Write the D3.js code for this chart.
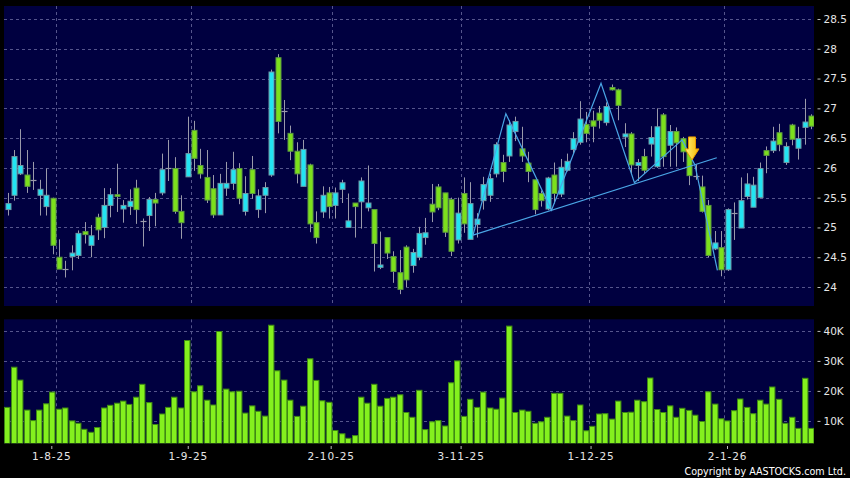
<!DOCTYPE html>
<html><head><meta charset="utf-8">
<script src="https://cdn.jsdelivr.net/npm/d3@7"></script>
<style>html,body{margin:0;padding:0;background:#000;}svg{display:block;}</style>
</head><body>
<svg id="c" width="850" height="478"></svg>
<script>
// ---------- DATA ----------
const dates = [
"2025-07-22","2025-07-23","2025-07-24","2025-07-25","2025-07-28","2025-07-29","2025-07-30","2025-07-31",
"2025-08-01","2025-08-04","2025-08-05","2025-08-06","2025-08-07","2025-08-08","2025-08-11","2025-08-12","2025-08-13","2025-08-14","2025-08-15","2025-08-18","2025-08-19","2025-08-20","2025-08-21","2025-08-22","2025-08-25","2025-08-26","2025-08-27","2025-08-28","2025-08-29",
"2025-09-01","2025-09-02","2025-09-03","2025-09-04","2025-09-05","2025-09-08","2025-09-09","2025-09-10","2025-09-11","2025-09-12","2025-09-15","2025-09-16","2025-09-17","2025-09-18","2025-09-19","2025-09-22","2025-09-23","2025-09-24","2025-09-25","2025-09-26","2025-09-29","2025-09-30",
"2025-10-02","2025-10-03","2025-10-06","2025-10-08","2025-10-09","2025-10-10","2025-10-13","2025-10-14","2025-10-15","2025-10-16","2025-10-17","2025-10-20","2025-10-21","2025-10-22","2025-10-23","2025-10-24","2025-10-27","2025-10-28","2025-10-30","2025-10-31",
"2025-11-03","2025-11-04","2025-11-05","2025-11-06","2025-11-07","2025-11-10","2025-11-11","2025-11-12","2025-11-13","2025-11-14","2025-11-17","2025-11-18","2025-11-19","2025-11-20","2025-11-21","2025-11-24","2025-11-25","2025-11-26","2025-11-27","2025-11-28",
"2025-12-01","2025-12-02","2025-12-03","2025-12-04","2025-12-05","2025-12-08","2025-12-09","2025-12-10","2025-12-11","2025-12-12","2025-12-15","2025-12-16","2025-12-17","2025-12-18","2025-12-19","2025-12-22","2025-12-23","2025-12-24","2025-12-29","2025-12-30","2025-12-31",
"2026-01-02","2026-01-05","2026-01-06","2026-01-07","2026-01-08","2026-01-09","2026-01-12","2026-01-13","2026-01-14","2026-01-15","2026-01-16","2026-01-19","2026-01-20","2026-01-21"];

const open = [25.30,25.54,25.90,25.88,25.79,25.54,25.35,25.49,24.50,24.30,24.51,24.53,24.93,24.70,25.17,25.00,25.37,25.55,25.31,25.35,
25.66,25.10,25.20,25.47,25.58,25.99,25.99,25.27,25.85,26.63,26.04,25.84,25.65,25.21,25.66,25.74,25.99,25.27,25.97,25.30,
25.54,25.88,27.85,26.95,26.58,26.28,25.69,26.05,25.08,25.26,25.58,25.37,25.64,25.00,25.41,25.43,25.33,25.30,24.33,24.83,
24.51,24.24,24.67,24.36,24.50,24.83,25.39,25.68,25.58,25.47,24.79,25.57,24.80,25.05,25.45,25.54,25.90,26.09,26.20,26.61,
26.32,26.08,25.80,25.57,25.31,25.88,25.56,25.96,26.31,26.43,26.73,26.79,26.92,26.76,27.35,27.31,26.52,26.57,26.04,26.19,
26.40,26.02,26.89,26.38,26.61,26.49,26.27,25.87,25.68,25.37,24.64,24.66,24.29,25.24,24.99,25.52,25.34,25.50,26.29,26.29,
26.59,26.09,26.72,26.33,26.68,26.87];
const high = [25.58,26.30,26.65,26.30,26.10,25.80,25.99,25.50,24.80,24.44,24.70,24.95,25.09,25.04,25.23,25.66,25.66,26.07,25.46,25.64,
25.80,25.15,25.51,25.58,26.24,26.47,26.18,25.54,26.86,26.79,26.32,26.30,25.88,25.90,26.10,26.27,26.08,25.86,26.20,25.64,
25.76,27.65,27.91,27.14,26.71,26.43,26.47,26.07,25.27,25.69,25.68,25.67,25.80,25.57,25.41,25.84,26.04,25.30,24.93,24.83,
24.60,24.62,24.70,24.64,25.01,25.16,25.73,25.73,25.58,25.50,25.50,25.84,25.76,25.24,25.85,25.90,26.43,26.22,26.80,26.86,
26.69,26.27,25.80,25.62,25.85,26.09,26.15,26.24,26.60,27.12,26.94,26.96,27.04,27.10,27.40,27.33,26.75,26.60,26.15,26.32,
26.70,27.00,26.92,26.72,26.68,26.52,26.30,26.06,25.87,25.46,24.94,24.94,25.32,25.42,25.84,25.91,25.85,26.09,26.36,26.69,
26.74,26.43,26.74,26.69,27.16,26.90];
const low = [25.20,25.45,25.88,25.58,25.63,25.20,25.20,24.55,24.30,24.16,24.28,24.47,24.73,24.50,24.79,24.82,25.17,25.26,25.08,25.21,
25.06,24.68,24.94,25.02,25.54,25.78,25.23,24.81,25.85,25.95,25.82,25.41,25.16,25.21,25.53,25.63,25.39,25.20,25.48,25.16,
25.24,25.85,26.58,26.47,26.13,25.74,25.69,24.92,24.73,25.16,25.15,25.15,25.41,25.00,24.83,24.98,25.27,24.26,24.30,24.47,
24.07,23.88,24.00,24.24,24.45,24.71,25.09,25.29,24.84,24.52,24.73,24.91,24.80,24.83,25.30,25.43,25.84,25.76,26.10,26.45,
26.10,25.76,25.22,25.35,25.29,25.40,25.51,25.94,26.24,26.39,26.43,26.43,26.66,26.71,27.30,26.80,26.35,25.91,25.78,25.90,
26.19,26.00,26.02,26.02,26.02,26.10,25.71,25.80,25.25,24.50,24.62,24.18,24.27,24.79,24.99,25.47,25.34,25.50,25.91,26.25,
26.28,26.05,26.38,26.14,26.39,26.65];
const close = [25.40,26.19,26.04,25.69,25.79,25.64,25.54,24.70,24.30,24.30,24.57,24.90,24.88,24.86,24.96,25.37,25.55,25.52,25.37,25.44,
25.30,25.10,25.47,25.41,25.97,25.99,25.27,25.08,26.24,26.16,25.90,25.46,25.21,25.74,25.74,25.97,25.49,25.57,25.57,25.53,
25.67,27.61,26.78,26.95,26.28,25.90,26.31,25.06,24.83,25.54,25.35,25.58,25.75,25.11,25.35,25.78,25.41,24.73,24.37,24.57,
24.26,23.96,24.12,24.58,24.90,24.91,25.26,25.33,24.92,24.60,25.24,25.06,25.40,25.14,25.72,25.82,26.39,25.94,26.72,26.78,
26.20,25.94,25.30,25.45,25.83,25.57,26.01,26.11,26.49,26.82,26.58,26.70,26.80,27.03,27.31,27.05,26.57,26.05,26.09,25.96,
26.51,26.69,26.19,26.61,26.42,26.27,25.87,25.87,25.27,24.53,24.74,24.29,25.30,25.24,25.45,25.73,25.71,25.99,26.21,26.45,
26.39,26.36,26.48,26.49,26.77,26.70];
// volume in thousands of shares
const volume = [14.5,27.9,23.6,13.6,10.1,13.6,15.7,19.6,13.9,14.3,10.0,9.2,7.2,6.2,7.8,14.3,15.2,15.9,16.6,15.5,
17.9,22.2,16.1,8.8,12.3,14.5,17.9,14.3,36.8,19.7,21.7,16.9,15.3,39.8,20.6,19.7,19.9,12.6,15.0,13.2,
11.6,41.9,26.7,23.6,16.9,11.5,14.9,30.7,23.5,16.7,16.2,6.8,5.7,4.2,5.1,17.9,15.9,22.2,14.9,17.5,
17.9,18.7,12.8,11.2,20.2,7.1,9.7,10.1,8.3,22.7,30.0,11.5,17.2,14.5,19.6,14.3,13.9,17.6,41.6,12.8,
13.6,13.2,9.2,9.7,11.2,19.2,19.2,11.6,10.1,15.3,6.7,8.2,12.3,12.4,10.6,16.6,12.8,12.9,16.9,16.4,
24.3,13.8,12.8,15.0,11.2,14.2,13.5,11.9,9.8,19.7,15.6,10.7,10.0,13.4,17.3,14.5,12.4,16.9,15.6,21.3,
17.2,9.2,11.2,7.5,24.2,7.5];

const priceTicks = [24,24.5,25,25.5,26,26.5,27,27.5,28,28.5];
const volumeTicks = [10,20,30,40];
// drawn pattern (trading-day index, price)
const patternIdx   = [72.4, 77.5, 84.6, 92.3, 97.5, 104.9, 106.9, 110.4];
const patternPrice = [24.87, 26.91, 25.29, 27.42, 25.75, 26.47, 26.05, 24.28];
const trendIdx   = [72.4, 110.3];
const trendPrice = [24.87, 26.17];
const signalIdx = 106.45, signalPrice = 26.52;
const copyright = "Copyright by AASTOCKS.com Ltd.";

// ---------- LAYOUT ----------
const svg = d3.select("#c");
const P = {x0:4, x1:814, top:6, bottom:306};
const V = {top:319.3, bottom:443.3};
const n = dates.length;

const x = d3.scaleLinear().domain([-0.5, n - 0.5]).range([4.3, 814.5]);
const step = x(1) - x(0);
const y = d3.scaleLinear().domain([24, 28.5]).range([287, 19]);
const yv = d3.scaleLinear().domain([2.53, 43.87]).range([V.bottom, V.top]);

const parse = d3.timeParse("%Y-%m-%d");
const dObjs = dates.map(parse);
const monthStarts = d3.range(1, n).filter(i => dObjs[i].getMonth() !== dObjs[i-1].getMonth());
const fmt = d => `${d.getDate()}-${d.getMonth()+1}-${String(d.getFullYear()).slice(2)}`;
const xl = d3.scaleLinear().domain([monthStarts[0], monthStarts[monthStarts.length-1]]).range([51.3, 727]);

svg.append("rect").attr("width",850).attr("height",478).attr("fill","#000");

const defs = svg.append("defs");
defs.append("clipPath").attr("id","cp").append("rect")
  .attr("x",P.x0).attr("y",P.top).attr("width",P.x1-P.x0).attr("height",P.bottom-P.top);
defs.append("clipPath").attr("id","cv").append("rect")
  .attr("x",P.x0).attr("y",V.top).attr("width",P.x1-P.x0).attr("height",V.bottom-V.top);
const grad = defs.append("linearGradient").attr("id","ag").attr("x1",0).attr("x2",1).attr("y1",0).attr("y2",0);
grad.append("stop").attr("offset","0%").attr("stop-color","#fff27a");
grad.append("stop").attr("offset","100%").attr("stop-color","#f5b800");

// panels
svg.append("rect").attr("x",P.x0).attr("y",P.top).attr("width",P.x1-P.x0).attr("height",P.bottom-P.top).attr("fill","#000040");
svg.append("rect").attr("x",P.x0).attr("y",V.top).attr("width",P.x1-P.x0).attr("height",V.bottom-V.top).attr("fill","#000040");

const gridC = "#55558c";
const gp = svg.append("g").attr("clip-path","url(#cp)");
const gv = svg.append("g").attr("clip-path","url(#cv)");

// grid
gp.selectAll("line.h").data(priceTicks).join("line")
  .attr("x1",P.x0).attr("x2",P.x1).attr("y1",d=>Math.round(y(d))+0.5).attr("y2",d=>Math.round(y(d))+0.5)
  .attr("stroke",gridC).attr("stroke-dasharray","3,3");
gp.selectAll("line.v").data(monthStarts).join("line")
  .attr("x1",d=>Math.round(x(d-0.5))+0.5).attr("x2",d=>Math.round(x(d-0.5))+0.5).attr("y1",P.top).attr("y2",P.bottom)
  .attr("stroke",gridC).attr("stroke-dasharray","3,3");
gv.selectAll("line.h").data(volumeTicks).join("line")
  .attr("x1",P.x0).attr("x2",P.x1).attr("y1",d=>Math.round(yv(d))+0.5).attr("y2",d=>Math.round(yv(d))+0.5)
  .attr("stroke",gridC).attr("stroke-dasharray","3,3");
gv.selectAll("line.v").data(monthStarts).join("line")
  .attr("x1",d=>Math.round(x(d-0.5))+0.5).attr("x2",d=>Math.round(x(d-0.5))+0.5).attr("y1",V.top).attr("y2",V.bottom)
  .attr("stroke",gridC).attr("stroke-dasharray","3,3");

// candles
const idx = d3.range(n);
const cx = i => Math.round(x(i)) + 0.5;
gp.selectAll("line.wick").data(idx).join("line")
  .attr("x1",cx).attr("x2",cx).attr("y1",i=>y(high[i])).attr("y2",i=>y(low[i]))
  .attr("stroke","#9a9aaa").attr("stroke-width",1);
const upC = "#22e4f2", dnC = "#7ce01c";
gp.selectAll("rect.body").data(idx.filter(i=>open[i]!==close[i])).join("rect")
  .attr("x",i=>cx(i)-2.5).attr("width",5)
  .attr("y",i=>y(Math.max(open[i],close[i]))).attr("height",i=>Math.max(1,Math.abs(y(open[i])-y(close[i]))))
  .attr("fill",i=>close[i]>open[i]?upC:dnC)
  .attr("stroke",i=>close[i]>open[i]?"#6f98a6":"#5c9a40").attr("stroke-width",1);
gp.selectAll("line.doji").data(idx.filter(i=>open[i]===close[i])).join("line")
  .attr("x1",i=>cx(i)-3).attr("x2",i=>cx(i)+3).attr("y1",i=>Math.round(y(open[i]))+0.5).attr("y2",i=>Math.round(y(open[i]))+0.5)
  .attr("stroke","#9a9aaa").attr("stroke-width",1.2);

// pattern lines
const ln = d3.line().x(d=>x(d[0])).y(d=>y(d[1]));
gp.append("path").datum(patternIdx.map((d,k)=>[d,patternPrice[k]])).attr("d",ln)
  .attr("fill","none").attr("stroke","#4aa6e6").attr("stroke-width",1.2);
gp.append("path").datum(trendIdx.map((d,k)=>[d,trendPrice[k]])).attr("d",ln)
  .attr("fill","none").attr("stroke","#4aa6e6").attr("stroke-width",1.2);

// signal arrow
{
  const ax = x(signalIdx), ay = y(signalPrice);
  const pts = [[-3.5,0],[3.5,0],[3.5,12],[7,12],[0,23],[-7,12],[-3.5,12]];
  gp.append("path").attr("d", d3.line()(pts.map(p=>[ax+p[0], ay+p[1]]))+"Z")
    .attr("fill","url(#ag)").attr("stroke","#e89a00").attr("stroke-width",1);
}

// volume bars
gv.selectAll("rect.vol").data(idx).join("rect")
  .attr("x",i=>Math.round(x(i-0.5))+0.5).attr("width",step-1)
  .attr("y",i=>yv(volume[i])).attr("height",i=>V.bottom-yv(volume[i])+1)
  .attr("fill","#84f01e").attr("stroke","#3f8a14").attr("stroke-width",1);

// axes
const txtC = "#e6e6e6";
const fam = "DejaVu Sans, sans-serif";
const ay1 = svg.append("g").attr("transform","translate(817.5,0)")
  .call(d3.axisRight(y).tickValues(priceTicks).tickSize(3).tickPadding(3).tickFormat(d=>String(d)));
const ay2 = svg.append("g").attr("transform","translate(817.5,0)")
  .call(d3.axisRight(yv).tickValues(volumeTicks).tickSize(3).tickPadding(3).tickFormat(d=>d+"K"));
const ax1 = svg.append("g").attr("transform","translate(0,446)")
  .call(d3.axisBottom(xl).tickValues(monthStarts).tickSize(3).tickPadding(4).tickFormat(i=>fmt(dObjs[i])));
[ay1,ay2,ax1].forEach(g=>{
  g.select(".domain").remove();
  g.selectAll(".tick line").attr("stroke","#bbbbbb");
  g.selectAll("text").attr("fill",txtC).attr("font-family",fam).attr("font-size","10.5px");
});
ax1.selectAll("text").attr("letter-spacing","0.9px");

svg.append("text").attr("x",846).attr("y",474.5).attr("text-anchor","end")
  .attr("fill","#ffffff").attr("font-family",fam).attr("font-size","9.6px").text(copyright);
</script>
</body></html>
